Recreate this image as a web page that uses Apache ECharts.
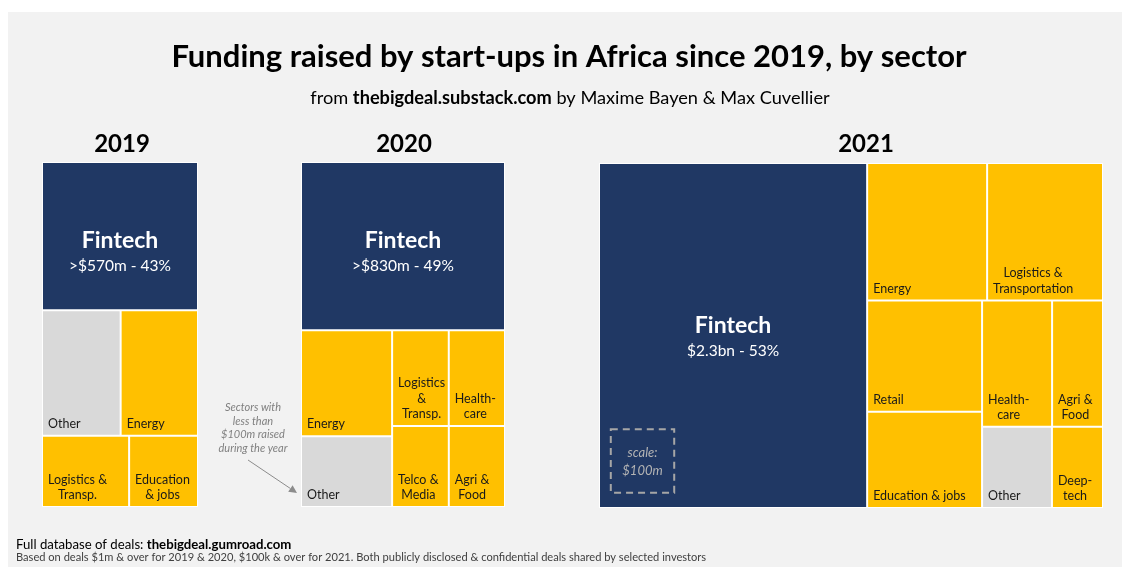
<!DOCTYPE html>
<html>
<head>
<meta charset="utf-8">
<script src="https://cdn.jsdelivr.net/npm/echarts@6/dist/echarts.min.js"></script>
<style>
  html, body { margin: 0; padding: 0; background: #ffffff; }
  #chart { width: 1122px; height: 567px; }
</style>
</head>
<body>
<div id="chart"></div>
<script>
// ---- data: funding raised per sector, $m ----
const years = ['2019', '2020', '2021'];

const sectors2019 = ['Fintech', 'Other', 'Energy', 'Logistics &\nTransp.', 'Education\n& jobs'];
const values2019  = [570, 243, 239, 153, 121];

const sectors2020 = ['Fintech', 'Energy', 'Other', 'Logistics\n&\nTransp.', 'Health-\ncare', 'Telco &\nMedia', 'Agri &\nFood'];
const values2020  = [830, 233, 156, 131, 130, 111, 110];

const sectors2021 = ['Fintech', 'Energy', 'Logistics &\nTransportation', 'Retail', 'Education & jobs',
                     'Health-\ncare', 'Agri &\nFood', 'Other', 'Deep-\ntech'];
const values2021  = [2300, 410, 396, 318, 275, 220, 160, 141, 103];

const fintechPrefix = ['>', '>', ''];   // 2019/2020 totals are lower bounds
const scaleValue = 100;                  // $m shown by the dashed scale square

// ---- styling ----
const FONT = 'Lato, "Open Sans", "Noto Sans", sans-serif';
const NAVY = '#203864', GOLD = '#FFC000', GREY = '#D9D9D9';
const LEAF_SIZE = 12.5, LEAF_LINE = 15.5;

const boxes = [
  { left: 42,  top: 162, width: 156, height: 345 },
  { left: 301, top: 162, width: 204, height: 345 },
  { left: 599, top: 163, width: 504, height: 345 }
];
// space above the "Fintech" caption inside each Fintech cell
const fintechPadTop = [65.5, 65.5, 149.5];
const yearCenters = [122, 404, 866];

const measure = document.createElement('canvas').getContext('2d');
function textWidth(str, size, weight) {
  measure.font = (weight || 'normal') + ' ' + size + 'px ' + FONT;
  return measure.measureText(str).width;
}

function money(v) {
  return v >= 1000 ? '$' + (v / 1000).toFixed(1) + 'bn' : '$' + v + 'm';
}

function colorFor(name) {
  if (name === 'Fintech') return NAVY;
  if (name === 'Other') return GREY;
  return GOLD;
}

// sector names sit in the bottom-left corner, lines centred on each other
function leafLabel(name) {
  const lines = name.split('\n');
  const w = Math.max.apply(null, lines.map(l => textWidth(l, LEAF_SIZE)));
  return {
    show: true,
    position: 'insideBottomLeft',
    distance: 5,
    padding: 0,
    overflow: 'none',
    align: 'center',
    offset: [w / 2, 2],
    fontSize: LEAF_SIZE,
    lineHeight: LEAF_LINE,
    fontFamily: FONT,
    color: '#1a1a1a',
    formatter: name
  };
}

function fintechLabel(i, value, total) {
  const pct = Math.round(value / total * 100);
  return {
    show: true,
    position: 'inside',
    padding: [fintechPadTop[i], 0, 0, 0],
    overflow: 'none',
    formatter: '{fn|Fintech}\n{fv|' + fintechPrefix[i] + money(value) + ' - ' + pct + '%}',
    rich: {
      fn: { fontSize: 23, fontWeight: 'bold', color: '#ffffff', lineHeight: 25, fontFamily: FONT, align: 'center' },
      fv: { fontSize: 15.5, color: '#ffffff', lineHeight: 25, fontFamily: FONT, align: 'center' }
    }
  };
}

function buildSeries(i, names, values) {
  const total = values.reduce((a, b) => a + b, 0);
  const box = boxes[i];
  return {
    type: 'treemap',
    name: years[i],
    left: box.left, top: box.top, width: box.width, height: box.height,
    roam: false,
    nodeClick: false,
    breadcrumb: { show: false },
    sort: false,
    squareRatio: 1.33,
    animation: false,
    emphasis: { disabled: true },
    levels: [
      { itemStyle: { borderWidth: 1, gapWidth: 2, borderColor: '#ffffff' } },
      { itemStyle: { borderWidth: 0 } }
    ],
    data: names.map((n, k) => ({
      name: n,
      value: values[k],
      itemStyle: { color: colorFor(n) },
      label: n === 'Fintech' ? fintechLabel(i, values[k], total) : leafLabel(n)
    }))
  };
}

const series = [
  buildSeries(0, sectors2019, values2019),
  buildSeries(1, sectors2020, values2020),
  buildSeries(2, sectors2021, values2021)
];

// scale square: area that $100m takes in the 2021 treemap
const total2021 = values2021.reduce((a, b) => a + b, 0);
const scaleSide = Math.sqrt(scaleValue * boxes[2].width * boxes[2].height / total2021);
const scaleCx = 642.5, scaleCy = 461;

const graphics = [
  { type: 'rect', z: -10, silent: true,
    shape: { x: 8, y: 12, width: 1114, height: 555 }, style: { fill: '#F2F2F2' } },
  { type: 'text', x: 569, y: 57, silent: true,
    style: { text: 'Funding raised by start-ups in Africa since 2019, by sector',
             font: 'bold 31px ' + FONT, fill: '#000000', align: 'center', verticalAlign: 'middle' } },
  { type: 'text', x: 570, y: 98, silent: true,
    style: { text: '{r|from }{b|thebigdeal.substack.com}{r| by Maxime Bayen & Max Cuvellier}',
             align: 'center', verticalAlign: 'middle',
             rich: { r: { fontSize: 18.2, fontFamily: FONT, color: '#636363' },
                     b: { fontSize: 18.2, fontFamily: FONT, fontWeight: 'bold', color: '#454545' } } } },
  // note pointing at the grey "Other" cells
  { type: 'text', x: 253, y: 428, silent: true,
    style: { text: 'Sectors with\nless than\n$100m raised\nduring the year',
             font: 'italic 11px ' + FONT, fill: '#808080', align: 'center', verticalAlign: 'middle',
             lineHeight: 13.7 } },
  { type: 'line', silent: true,
    shape: { x1: 248, y1: 460, x2: 290.4, y2: 488.5 }, style: { stroke: '#8c8c8c', lineWidth: 1 } },
  { type: 'polygon', silent: true,
    shape: { points: [[297, 493], [288.2, 491.8], [292.6, 485.2]] }, style: { fill: '#8c8c8c' } },
  // dashed scale square inside the 2021 Fintech cell
  { type: 'rect', z: 10, silent: true,
    shape: { x: scaleCx - scaleSide / 2, y: scaleCy - scaleSide / 2, width: scaleSide, height: scaleSide },
    style: { fill: 'none', stroke: '#a6a6a6', lineWidth: 2, lineDash: [7, 5] } },
  { type: 'text', z: 10, x: scaleCx, y: scaleCy + 1, silent: true,
    style: { text: 'scale:\n' + money(scaleValue), font: 'italic 13px ' + FONT, fill: '#b4b4b4',
             align: 'center', verticalAlign: 'middle', lineHeight: 18 } },
  // footer
  { type: 'text', x: 16, y: 545, silent: true,
    style: { text: '{r|Full database of deals: }{b|thebigdeal.gumroad.com}', verticalAlign: 'middle',
             rich: { r: { fontSize: 13.2, fontFamily: FONT, color: '#404040' },
                     b: { fontSize: 13.2, fontFamily: FONT, fontWeight: 'bold', color: '#262626' } } } },
  { type: 'text', x: 16, y: 557, silent: true,
    style: { text: 'Based on deals $1m & over for 2019 & 2020, $100k & over for 2021. Both publicly disclosed & confidential deals shared by selected investors',
             font: '11.1px ' + FONT, fill: '#404040', verticalAlign: 'middle' } }
];

years.forEach((y, i) => {
  graphics.push({ type: 'text', x: yearCenters[i], y: 144, silent: true,
    style: { text: y, font: 'bold 24px ' + FONT, fill: '#000000', align: 'center', verticalAlign: 'middle' } });
});

const chart = echarts.init(document.getElementById('chart'), null, { renderer: 'canvas' });
chart.setOption({
  backgroundColor: '#ffffff',
  animation: false,
  tooltip: { show: false },
  graphic: { elements: graphics },
  series: series
});
</script>
</body>
</html>
